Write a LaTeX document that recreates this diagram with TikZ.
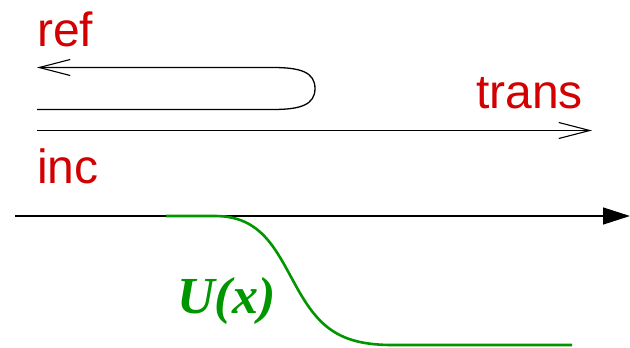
\documentclass[tikz,border=0pt]{standalone}
\usepackage{fontspec}
\setmainfont{Liberation Serif}
\setsansfont{Liberation Sans}
\usetikzlibrary{arrows.meta}
\definecolor{lblred}{RGB}{210,0,0}
\definecolor{curvegreen}{RGB}{0,150,0}
\tikzset{
  lbl/.style={text=lblred, font=\sffamily\fontsize{48}{52}\selectfont, inner sep=0pt, anchor=base west},
  wave/.style={line width=1.3pt, black},
  openhead/.style={-{Straight Barb[length=31pt,width=16pt,line width=1.1pt]}},
}
\begin{document}
\begin{tikzpicture}[x=1pt,y=-1pt]
\useasboundingbox (0,0) rectangle (630,348);
% labels
\node[lbl] (ref) at (37,46.5) {ref};
\node[lbl] (trans) at (476,108.5) {trans};
\node[lbl] (inc) at (37,183.5) {inc};
% reflected wave
\coordinate (rs) at (37,109.5);
\coordinate (re) at (37,67.5);
\draw[wave, openhead] (rs) -- (273,109.5) .. controls (300,109.5) and (315,105) .. (315,88.5)
  .. controls (315,72) and (300,67.5) .. (273,67.5) -- (re);
% transmitted wave
\coordinate (ts) at (37,130.5);
\coordinate (te) at (592,130.5);
\draw[wave, openhead] (ts) -- (te);
% axis
\coordinate (as) at (15,216);
\coordinate (ae) at (630,216);
\draw[line width=1.4pt, -{Triangle[length=27pt,width=17pt]}] (as) -- (ae);
% potential
\draw[curvegreen, line width=2.6pt] (166,216) -- (215,216)
  .. controls (262,216) and (276,250) .. (296,286)
  .. controls (318,326) and (338,345) .. (392,345) -- (572,345);
\node[text=curvegreen, font=\fontsize{52}{56}\selectfont\bfseries\itshape, inner sep=0pt, anchor=base west] (U) at (177,313) {U(x)};
\end{tikzpicture}
\end{document}
